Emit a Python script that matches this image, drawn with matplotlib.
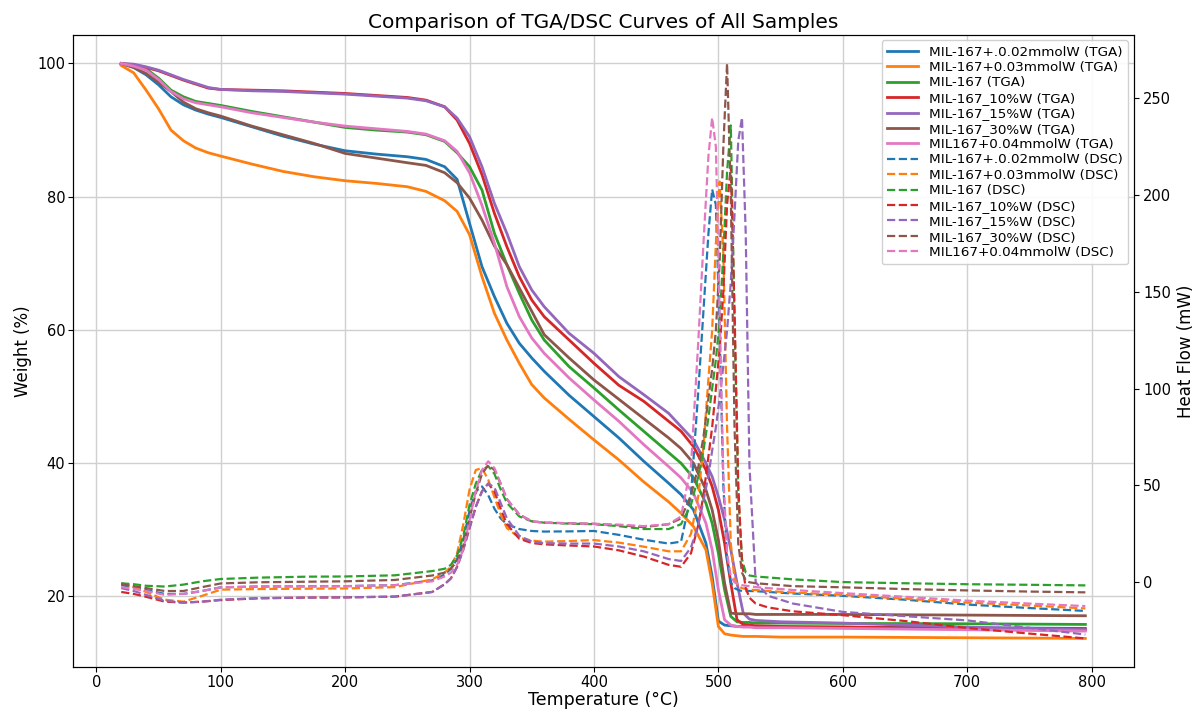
import matplotlib
matplotlib.use("Agg")
import matplotlib.pyplot as plt

# ---------------- data ----------------
labels = ["MIL-167+.0.02mmolW", "MIL-167+0.03mmolW", "MIL-167", "MIL-167_10%W",
          "MIL-167_15%W", "MIL-167_30%W", "MIL167+0.04mmolW"]

t_tga = [20, 30, 40, 50, 60, 70, 80, 90, 100, 125, 150, 175, 200, 225, 250, 265, 280, 290,
         300, 310, 320, 330, 340, 350, 360, 380, 400, 420, 440, 460, 470, 480, 490, 495,
         500, 505, 510, 515, 520, 525, 530, 550, 600, 700, 795]

tga_002 = [100, 99.4, 98.3, 96.8, 95, 93.8, 93, 92.4, 91.9, 90.5, 89.1, 87.9, 86.9, 86.4, 86, 85.6, 84.5, 82.6,
           76, 69.5, 65, 61, 58, 55.8, 53.8, 50.2, 47, 43.8, 40.3, 37, 35.3, 33, 28, 23,
           16.3, 15.7, 15.6, 15.5, 15.5, 15.5, 15.5, 15.4, 15.4, 15.3, 15.2]
tga_003 = [99.7, 98.6, 96, 93.2, 90, 88.4, 87.3, 86.6, 86.1, 84.9, 83.8, 83, 82.4, 82, 81.5, 80.8, 79.4, 77.8,
           74.3, 68, 62.5, 58.5, 55, 51.8, 49.8, 46.6, 43.5, 40.5, 37.2, 34.2, 32.5, 30.5, 27, 22,
           15.5, 14.4, 14.2, 14.1, 14.0, 14.0, 14.0, 13.9, 13.9, 13.8, 13.7]
tga_167 = [100, 99.6, 99.2, 97.8, 96, 95, 94.3, 94, 93.7, 92.8, 92, 91.2, 90.4, 90, 89.7, 89.3, 88.3, 86.6,
           84.5, 81, 74.5, 69.8, 65.5, 61.5, 58.5, 54.5, 51.3, 48, 44.8, 41.6, 40, 37.8, 34, 31,
           26.5, 21, 17, 16.2, 16.1, 16.1, 16.0, 16.0, 15.95, 15.9, 15.8]
tga_10 = [100, 99.8, 99.4, 98.9, 98.2, 97.5, 96.9, 96.3, 96.1, 96.0, 95.9, 95.7, 95.5, 95.2, 94.9, 94.5, 93.5, 91.5,
          88, 83.3, 77.5, 72.5, 68, 64.5, 62, 58.5, 55, 51.7, 49.3, 46.3, 44.8, 42.5, 39, 36.5,
          33, 28, 22, 16.5, 15.8, 15.7, 15.6, 15.5, 15.4, 15.2, 15.0]
tga_15 = [100, 99.9, 99.5, 99, 98.3, 97.6, 97, 96.4, 96.1, 95.9, 95.8, 95.6, 95.4, 95.1, 94.8, 94.4, 93.5, 91.8,
          89, 84.5, 79, 74.5, 69.5, 66, 63.5, 59.5, 56.5, 53, 50.3, 47.5, 45.5, 43.5, 40, 38,
          35, 31.5, 27, 22, 17.5, 16.6, 16.4, 16.2, 16, 15.4, 15.0]
tga_30 = [100, 99.4, 98.5, 97.2, 95.8, 94.2, 93.2, 92.6, 92.1, 90.6, 89.3, 88, 86.5, 85.8, 85.1, 84.7, 83.6, 82.1,
          79.8, 76.5, 72.6, 69.8, 66.3, 62.8, 59.3, 55.8, 52.5, 49.6, 46.7, 43.8, 42.2, 40, 36, 33,
          28.5, 22, 17.5, 17.4, 17.4, 17.4, 17.3, 17.3, 17.3, 17.2, 17.1]
tga_004 = [100, 99.6, 99, 97.6, 95.8, 94.7, 94.1, 93.8, 93.5, 92.6, 91.9, 91.2, 90.6, 90.2, 89.8, 89.4, 88.4, 86.8,
           83.6, 78.7, 73, 66.5, 62, 58.8, 56.5, 52.8, 49.5, 46.3, 42.8, 39.5, 37.8, 35.5, 31, 27,
           21, 16.5, 15.7, 15.5, 15.4, 15.4, 15.3, 15.3, 15.2, 15.0, 14.8]

t_dsc = [20, 30, 40, 55, 70, 85, 100, 130, 170, 200, 240, 270, 280, 285, 290, 295, 300, 305, 310, 315,
         320, 325, 330, 340, 350, 360, 380, 400, 420, 440, 460, 470, 478, 484, 488, 492, 495, 498,
         501, 504, 507, 510, 513, 516, 519, 522, 525, 530, 540, 560, 600, 650, 700, 750, 795]

dsc_002 = [-1.5, -2.5, -4, -6, -6, -4.5, -2.6, -2.2, -2.1, -2, -1.5, 1, 4, 7, 12, 22, 37, 47, 49.5, 45,
           38, 33, 30, 27.5, 26.5, 26.2, 26.3, 26.5, 24.5, 22, 20, 21, 45, 100, 140, 180, 203, 195,
           130, 50, 12, 0, -3, -4, -4.5, -4.5, -4.5, -4.6, -5, -5.8, -7, -9, -11.5, -13.3, -14.8]
dsc_003 = [-0.5, -2.5, -5, -9, -10, -7, -3.8, -3.5, -3.3, -3.2, -2.5, 1.5, 5, 8, 15, 30, 48, 58, 59, 53,
           44, 35, 28, 23, 21.5, 21, 21.3, 21.8, 20.5, 18.4, 16, 16, 25, 45, 70, 105, 130, 175,
           207, 170, 80, 20, 2, -2, -3, -3.5, -3.8, -4, -4.5, -5.3, -6.5, -8.5, -10.5, -12, -13.5]
dsc_167 = [-0.5, -1, -1.8, -2.2, -1.2, 0.5, 1.7, 2.4, 2.9, 3.0, 3.6, 5.8, 7, 9, 14, 24, 40, 51, 58, 60,
           56, 48, 41, 34, 31.5, 30.8, 30.3, 30, 29, 27.5, 27.5, 30, 40, 55, 68, 85, 100, 115,
           135, 170, 212, 236, 135, 45, 12, 5, 3.5, 3, 2.5, 1.5, 0.1, -0.5, -1, -1.3, -1.6]
dsc_10 = [-5, -6, -7.5, -10, -10.5, -10, -9.2, -8.3, -7.9, -7.8, -7.4, -5, -1, 2, 8, 17, 28, 39, 47, 51,
          47, 38, 30, 22.5, 20.3, 19.6, 19, 18.5, 16.5, 13.3, 9, 8, 15, 30, 45, 65, 80, 100,
          120, 150, 195, 215, 140, 50, 10, -3, -8, -11, -13, -15, -17, -20, -23.6, -26.5, -29]
dsc_15 = [-3, -4.5, -6.5, -9.5, -10.5, -10, -9, -8.2, -7.9, -7.8, -7.4, -5, -1, 2, 8, 17, 28, 39, 47, 51,
          49, 41, 33, 24, 21, 20.2, 20, 20, 18.5, 16, 12, 11, 18, 30, 42, 55, 68, 80,
          95, 112, 130, 155, 190, 228, 240, 180, 60, 0, -7, -11, -15.3, -17.5, -19.7, -23.5, -27]
dsc_30 = [-1, -2, -3, -4.5, -4.5, -2.5, -0.6, 0, 0.3, 0.5, 1.2, 3.5, 5, 7, 11, 19, 33, 46, 56, 60.5,
          58, 51, 43, 35, 31.5, 30.8, 30.5, 30.2, 29.5, 28.5, 30, 33, 45, 60, 75, 95, 110, 130,
          165, 225, 268, 200, 80, 20, 5, 1, 0, -0.5, -1, -2, -2.6, -3.5, -4.2, -4.8, -5.2]
dsc_004 = [-2.5, -3.5, -4.5, -6.5, -6, -4.5, -2.6, -2.2, -2.1, -2, -1.5, 0.5, 3, 5, 9, 17, 32, 47, 58, 62.5,
           59, 51, 43, 35, 31.5, 30.8, 30.5, 30.2, 29.8, 29, 30, 34, 60, 126, 175, 220, 240, 225,
           140, 55, 15, 3, 0, -1, -1.5, -1.8, -2, -2.5, -3, -4, -5.6, -7.5, -9.5, -11, -12.3]

tga_series = [tga_002, tga_003, tga_167, tga_10, tga_15, tga_30, tga_004]
dsc_series = [dsc_002, dsc_003, dsc_167, dsc_10, dsc_15, dsc_30, dsc_004]
colors = ["#1f77b4", "#ff7f0e", "#2ca02c", "#d62728", "#9467bd", "#8c564b", "#e377c2"]

# ---------------- plot ----------------
fig = plt.figure(figsize=(11.97, 7.09), dpi=100)
ax1 = fig.add_axes([0.061, 0.059, 0.886, 0.892])
ax2 = ax1.twinx()

handles = []
for lab, y, c in zip(labels, tga_series, colors):
    h, = ax1.plot(t_tga, y, color=c, lw=2, label=f"{lab} (TGA)")
    handles.append(h)
for lab, y, c in zip(labels, dsc_series, colors):
    h, = ax2.plot(t_dsc, y, color=c, lw=1.6, ls="--", label=f"{lab} (DSC)")
    handles.append(h)

ax1.set_xlabel("Temperature (°C)", fontsize=12.5, labelpad=1)
ax1.set_ylabel("Weight (%)", fontsize=12)
ax2.set_ylabel("Heat Flow (mW)", fontsize=12)
ax1.set_title("Comparison of TGA/DSC Curves of All Samples", fontsize=14.5, pad=5)
ax1.grid(True, color="#d0d0d0", lw=1)
ax1.tick_params(labelsize=10.5, pad=2)
ax2.tick_params(labelsize=10.5)
ax2.legend(handles=handles, loc="upper right", fontsize=9.7, labelspacing=0.18,
           handlelength=2.3, borderaxespad=0.4, framealpha=0.9)

fig.savefig("out.png", dpi=100)
